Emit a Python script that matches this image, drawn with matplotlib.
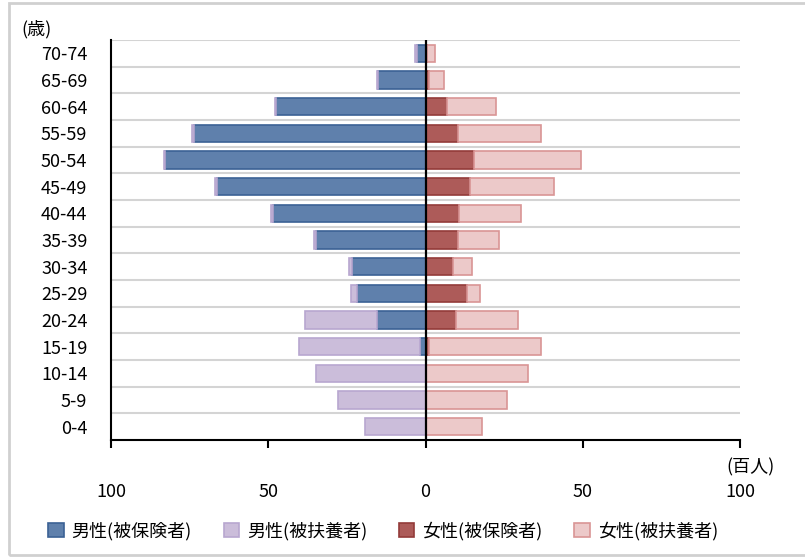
import matplotlib.pyplot as plt
import matplotlib.patches as mpatches
import numpy as np

plt.rcParams['font.family'] = ['Noto Sans CJK JP', 'DejaVu Sans']

# 年齢階級 (下から上へ)
ages = ['0-4', '5-9', '10-14', '15-19', '20-24', '25-29', '30-34', '35-39',
        '40-44', '45-49', '50-54', '55-59', '60-64', '65-69', '70-74']

# 単位: 百人
male_ins = [0, 0, 0, 1.7, 15.4, 21.7, 23.3, 34.8, 48.5, 66.4, 82.9, 73.7, 47.5, 15.0, 2.8]
male_dep = [19.2, 27.8, 34.7, 38.6, 22.8, 2.0, 1.1, 0.5, 0.5, 0.4, 0.4, 0.4, 0.4, 0.4, 0.5]
female_ins = [0, 0, 0, 1.2, 9.7, 13.2, 8.6, 10.2, 10.8, 14.2, 15.3, 10.3, 6.8, 1.2, 0.4]
female_dep = [17.9, 25.9, 32.7, 35.5, 19.6, 4.1, 6.3, 13.3, 19.7, 26.5, 34.0, 26.4, 15.7, 4.6, 2.5]

labels = ['男性(被保険者)', '男性(被扶養者)', '女性(被保険者)', '女性(被扶養者)']
fills = ['#5f80ac', '#cbbdda', '#ad5b59', '#ecc9c9']
edges = ['#3b6195', '#b8a7d0', '#933b39', '#d99595']

fs = 13

fig = plt.figure(figsize=(8.05, 5.57), dpi=100)
ax = fig.add_axes([111 / 805, 1 - 440 / 557, 629 / 805, 400 / 557])

mi = np.array(male_ins)
md = np.array(male_dep)
fi = np.array(female_ins)
fd = np.array(female_dep)
h = 0.65
lw = 1.2

b1 = ax.barh(ages, -mi, height=h, color=fills[0], edgecolor=edges[0], linewidth=lw, zorder=3)
b2 = ax.barh(ages, -md, left=-mi, height=h, color=fills[1], edgecolor=edges[1], linewidth=lw, zorder=3)
b3 = ax.barh(ages, fi, height=h, color=fills[2], edgecolor=edges[2], linewidth=lw, zorder=3)
b4 = ax.barh(ages, fd, left=fi, height=h, color=fills[3], edgecolor=edges[3], linewidth=lw, zorder=3)

ax.set_xlim(-100, 100)
ax.set_ylim(-0.5, len(ages) - 0.5)
ax.axvline(0, color='black', lw=1.6, zorder=4)

# 区切りの横線
ax.set_yticks(np.arange(0.5, len(ages), 1), minor=True)
ax.grid(True, axis='y', which='minor', color='#d4d4d4', lw=1.5, zorder=0)
ax.tick_params(axis='y', which='both', length=0, labelsize=fs, pad=17)

ax.set_xticks([-100, -50, 0, 50, 100])
ax.set_xticklabels(['100', '50', '0', '50', '100'])
ax.tick_params(axis='x', direction='out', length=6, width=1.5, labelsize=fs, pad=25)

for s in ['top', 'right']:
    ax.spines[s].set_visible(False)
for s in ['left', 'bottom']:
    ax.spines[s].set_linewidth(1.5)
    ax.spines[s].set_color('black')

fig.text(21 / 805, 1 - 29 / 557, '(歳)', fontsize=fs, ha='left', va='center')
fig.text(750 / 805, 1 - 467 / 557, '(百人)', fontsize=fs, ha='center', va='center')

fig.legend([b1, b2, b3, b4], labels, loc='center left', ncol=4,
           bbox_to_anchor=(32 / 805, 1 - 531 / 557), frameon=False, fontsize=fs,
           handlelength=0.85, handleheight=0.85, handletextpad=0.45, columnspacing=1.75)

# 外枠
fig.patches.append(mpatches.Rectangle((9 / 805, 2 / 557), 1.0, 1 - 5 / 557,
                                      transform=fig.transFigure, fill=False,
                                      edgecolor='#d0d0d0', lw=2))

fig.savefig('out.png', dpi=100)
